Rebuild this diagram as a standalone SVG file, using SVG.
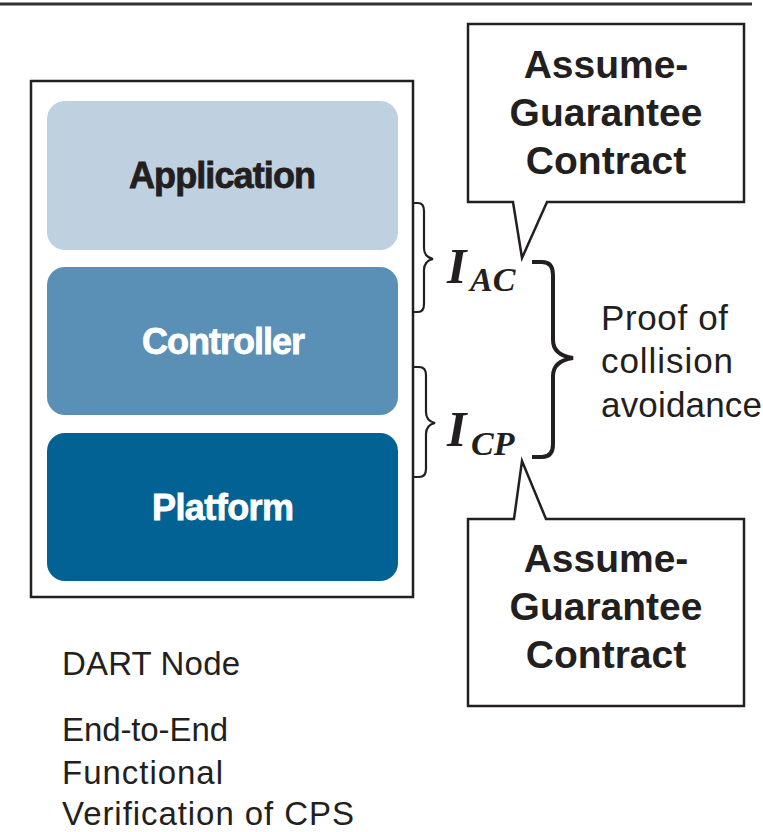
<svg xmlns="http://www.w3.org/2000/svg" width="763" height="832" viewBox="0 0 763 832">
  <style>
    .frame { fill: none; stroke: #231f20; stroke-width: 2.5; }
    .callout { fill: #ffffff; stroke: #231f20; stroke-width: 2.5; stroke-linejoin: miter; }
    .brace { fill: none; stroke: #231f20; stroke-width: 2.2; stroke-linecap: butt; }
    .brace-big { fill: none; stroke: #231f20; stroke-width: 4; stroke-linecap: butt; }
    .layer-label { font-family: "Liberation Sans", Arial, sans-serif; font-weight: bold; font-size: 36px; text-anchor: middle; stroke-width: 0.8; }
    .contract { font-family: "Liberation Sans", Arial, sans-serif; font-weight: bold; font-size: 39px; text-anchor: middle; fill: #231f20; }
    .note { font-family: "Liberation Sans", Arial, sans-serif; font-size: 33px; fill: #231f20; }
    .proof { font-family: "Liberation Sans", Arial, sans-serif; font-size: 35px; fill: #231f20; }
    .iface { font-family: "Liberation Serif", "Times New Roman", serif; font-weight: bold; font-style: italic; fill: #231f20; }
  </style>

  <rect width="763" height="832" fill="#ffffff"/>

  <!-- header rule -->
  <line x1="0" y1="4" x2="752" y2="4" stroke="#333333" stroke-width="3"/>

  <!-- DART node: stacked layers -->
  <g id="dart-node">
    <rect class="frame" x="31" y="81" width="382" height="516"/>
  </g>
  <g id="application">
    <rect x="47" y="101" width="351" height="149" rx="18" fill="#bfd0e0"/>
    <text class="layer-label" x="222.5" y="188" fill="#231f20" stroke="#231f20" textLength="187">Application</text>
  </g>
  <g id="controller">
    <rect x="47" y="267" width="351" height="148" rx="18" fill="#5a8fb6"/>
    <text class="layer-label" x="223.5" y="354" fill="#ffffff" stroke="#ffffff" textLength="163">Controller</text>
  </g>
  <g id="platform">
    <rect x="47" y="433" width="351" height="148" rx="18" fill="#026293"/>
    <text class="layer-label" x="223" y="520" fill="#ffffff" stroke="#ffffff" textLength="142">Platform</text>
  </g>

  <!-- braces and callout pointers -->
  <g id="connectors">
    <path class="brace" d="M412,203 H418 Q424,203 424,211 V248 Q424,257 433,259 Q424,261 424,270 V304 Q424,312 418,312 H412"/>
    <path class="brace" d="M412,367 H419 Q426,367 426,375 V412 Q426,421 435,423 Q426,425 426,434 V469 Q426,477 419,477 H412"/>
    <path class="brace-big" d="M532,262 H542 Q553,262 553,275 V340 Q553,355 573,358 Q553,361 553,376 V444 Q553,457 542,457 H532"/>
  </g>

  <!-- interface labels -->
  <g id="iface-ac">
    <text class="iface" x="447" y="283" font-size="50">I</text>
    <text class="iface" x="470" y="291" font-size="34">AC</text>
  </g>
  <g id="iface-cp">
    <text class="iface" x="447" y="446" font-size="50">I</text>
    <text class="iface" x="471" y="455" font-size="34">CP</text>
  </g>

  <!-- assume-guarantee callouts -->
  <g id="contract-top">
    <path class="callout" d="M468,24 H744 V202 H547 L522,258 L513,202 H468 Z"/>
    <text class="contract" x="606" y="78">Assume-</text>
    <text class="contract" x="606" y="126">Guarantee</text>
    <text class="contract" x="606" y="174">Contract</text>
  </g>
  <g id="contract-bottom">
    <path class="callout" d="M468,519 H514 L522,461 L546,519 H744 V706 H468 Z"/>
    <text class="contract" x="606" y="572">Assume-</text>
    <text class="contract" x="606" y="620">Guarantee</text>
    <text class="contract" x="606" y="668">Contract</text>
  </g>

  <!-- proof note -->
  <g id="proof">
    <text class="proof" x="601" y="330" textLength="127">Proof of</text>
    <text class="proof" x="601" y="373" textLength="132">collision</text>
    <text class="proof" x="601" y="417" textLength="161">avoidance</text>
  </g>

  <!-- captions -->
  <g id="captions">
    <text class="note" x="62" y="675" textLength="178">DART Node</text>
    <text class="note" x="62" y="741" textLength="166">End-to-End</text>
    <text class="note" x="62" y="784" textLength="161">Functional</text>
    <text class="note" x="62" y="825" textLength="292">Verification of CPS</text>
  </g>
</svg>
